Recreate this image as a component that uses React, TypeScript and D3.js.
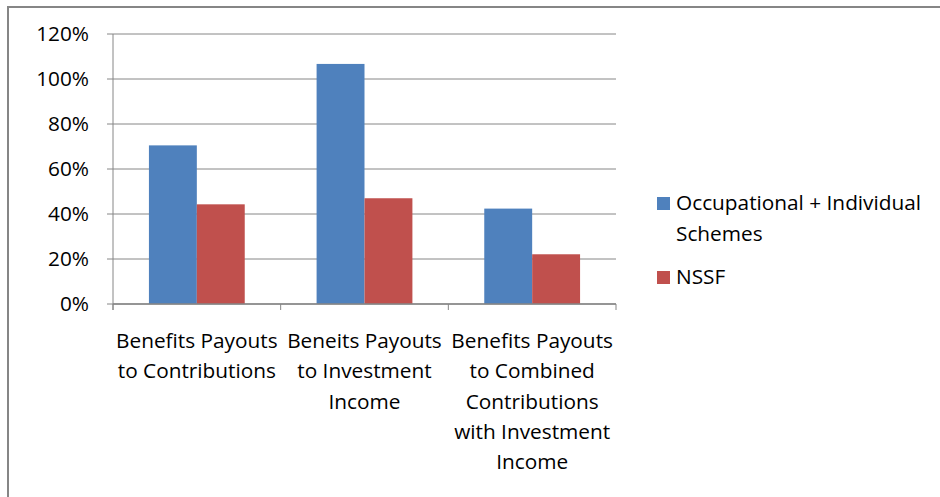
import React from "react";
import * as d3 from "d3";

const categories = [
  ["Benefits Payouts", "to Contributions"],
  ["Beneits Payouts", "to Investment", "Income"],
  ["Benefits Payouts", "to Combined", "Contributions", "with Investment", "Income"],
];
const seriesNames = ["Occupational + Individual Schemes", "NSSF"];
const occupational = [0.705, 1.067, 0.424];
const nssf = [0.443, 0.47, 0.221];
const yTicks = [0, 0.2, 0.4, 0.6, 0.8, 1.0, 1.2];
const colors = ["#4F81BD", "#C0504D"];

const W = 940;
const H = 497;
const FONT = "'Open Sans', Lato, sans-serif";
const FS = 20.8;

export default function App() {
  const left = 113, right = 616, top = 34, bottom = 304;
  const x = d3.scaleBand<number>().domain(d3.range(categories.length)).range([left, right]).paddingInner(0).paddingOuter(0);
  const inner = d3.scaleBand<number>().domain([0, 1]).range([0, x.bandwidth()]).paddingOuter(0.75).paddingInner(0);
  const y = d3.scaleLinear().domain([0, 1.2]).range([bottom, top]);
  const series = [occupational, nssf];
  const fmt = d3.format(".0%");
  const grid = "#868686";

  return (
    <div style={{ position: "absolute", left: 0, top: 0 }}>
      <svg width={W} height={H} style={{ display: "block", fontFamily: FONT }}>
        <rect x={0} y={0} width={W} height={H} fill="#fff" />
        <line x1={8} y1={7} x2={W} y2={7} stroke={grid} strokeWidth={2} />
        <line x1={8} y1={6} x2={8} y2={H} stroke={grid} strokeWidth={2} />
        {yTicks.map((t) => (
          <g key={t}>
            <line x1={left - 6} x2={right} y1={y(t)} y2={y(t)} stroke={grid} strokeWidth={1} />
            <text x={89} y={y(t)} dy="0.35em" textAnchor="end" fontSize={FS} fill="#000">
              {fmt(t)}
            </text>
          </g>
        ))}
        {series.map((vals, si) =>
          vals.map((v, ci) => (
            <rect
              key={`${si}-${ci}`}
              x={(x(ci) as number) + (inner(si) as number)}
              y={y(v)}
              width={inner.bandwidth()}
              height={y(0) - y(v)}
              fill={colors[si]}
            />
          ))
        )}
        <line x1={left} x2={left} y1={top} y2={bottom + 6} stroke={grid} strokeWidth={1} />
        <line x1={left} x2={right} y1={bottom} y2={bottom} stroke={grid} strokeWidth={1.5} />
        {d3.range(categories.length + 1).map((i) => {
          const xx = left + i * x.bandwidth();
          return <line key={i} x1={xx} x2={xx} y1={bottom} y2={bottom + 6} stroke={grid} strokeWidth={1} />;
        })}
        {categories.map((lines, ci) => (
          <text key={ci} textAnchor="middle" fontSize={FS} fill="#000">
            {lines.map((ln, li) => (
              <tspan key={li} x={(x(ci) as number) + x.bandwidth() / 2} y={348 + li * 30.3}>
                {ln}
              </tspan>
            ))}
          </text>
        ))}
        <rect x={657} y={197} width={13} height={13} fill={colors[0]} />
        <text x={676} y={210} fontSize={FS} fill="#000">Occupational + Individual</text>
        <text x={676} y={241} fontSize={FS} fill="#000">Schemes</text>
        <rect x={657} y={271} width={13} height={13} fill={colors[1]} />
        <text x={676} y={284} fontSize={FS} fill="#000">{seriesNames[1]}</text>
      </svg>
    </div>
  );
}
